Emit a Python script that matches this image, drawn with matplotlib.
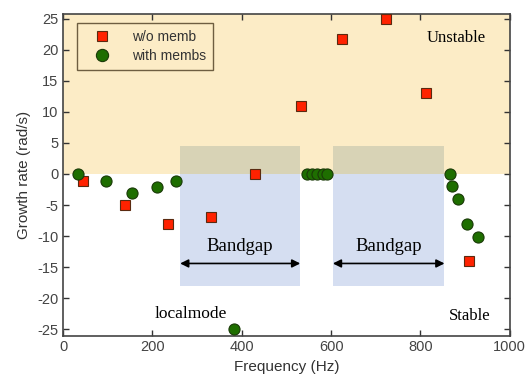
import matplotlib.pyplot as plt
from matplotlib.patches import Rectangle

# w/o memb (red squares)
f_nomemb = [45, 139, 234, 331, 430, 532, 625, 722, 813, 908]
g_nomemb = [-1.1, -5, -8, -6.9, 0, 10.9, 21.8, 24.9, 13, -14]

# with membs (green circles)
f_memb = [33, 95, 155, 211, 253, 383, 545, 557, 569, 581, 592, 867, 871, 884, 904, 930]
g_memb = [0, -1.1, -3, -2.1, -1.1, -24.9, 0, 0, 0, 0, 0, 0, -2, -4, -8, -10.1]

# band gap regions (Hz) and their vertical extent
gaps = [(262, 531), (604, 854)]
gap_top, gap_bottom = 4.5, -18

plt.rcParams['font.family'] = ['Liberation Sans', 'DejaVu Sans']
plt.rcParams['axes.unicode_minus'] = False

fig = plt.figure(figsize=(5.26, 3.77), dpi=100)
ax = fig.add_axes([0.12, 0.11, 0.849, 0.852])

ax.set_xlim(0, 1000)
ax.set_ylim(-26, 25.7)

# unstable region shading
ax.axhspan(0, 30, color='#fcecc6', zorder=0, lw=0)

for lo, hi in gaps:
    # part over the unstable shading looks greyish, below zero light blue
    ax.add_patch(Rectangle((lo, 0), hi - lo, gap_top,
                           facecolor='#d8d3b6', lw=0, zorder=1))
    ax.add_patch(Rectangle((lo, gap_bottom), hi - lo, -gap_bottom,
                           facecolor='#d5def1', lw=0, zorder=1))
    ax.annotate('', xy=(lo, -14.4), xytext=(hi, -14.4),
                arrowprops=dict(arrowstyle='<|-|>', color='black', lw=1.2,
                                mutation_scale=12, shrinkA=0, shrinkB=0), zorder=3)
    ax.text((lo + hi) / 2, -11.6, 'Bandgap', family='Liberation Serif',
            fontsize=13.5, ha='center', va='center', zorder=3)

ax.plot(f_nomemb, g_nomemb, 's', color='#ff2200', mec='#5a2a10', mew=0.8,
        ms=6.5, label='w/o memb', zorder=4)
ax.plot(f_memb, g_memb, 'o', color='#1e6e00', mec='#1a3a08', mew=0.8,
        ms=8, label='with membs', zorder=4)

ax.text(880, 21.9, 'Unstable', family='Liberation Serif', fontsize=12,
        ha='center', va='center')
ax.text(911, -22.9, 'Stable', family='Liberation Serif', fontsize=12,
        ha='center', va='center')
ax.text(286, -22.6, 'localmode', family='Liberation Serif', fontsize=12.5,
        ha='center', va='center')

ax.set_xticks([0, 200, 400, 600, 800, 1000])
ax.set_yticks([-25, -20, -15, -10, -5, 0, 5, 10, 15, 20, 25])
ax.tick_params(direction='in', top=True, right=True, length=4, width=1,
               colors='#333333', labelsize=10.5, labelcolor='#444444')
for s in ax.spines.values():
    s.set_color('#444444')
    s.set_linewidth(1.2)

ax.set_xlabel('Frequency (Hz)', fontsize=11, color='#333333')
ax.set_ylabel('Growth rate (rad/s)', fontsize=11, color='#333333')

leg = ax.legend(loc='upper left', bbox_to_anchor=(0.03, 0.973), borderaxespad=0,
                fontsize=10, frameon=True, fancybox=False, borderpad=0.5,
                handlelength=2.6, handletextpad=0.9, labelspacing=0.35,
                markerscale=1.1)
leg.get_frame().set_edgecolor('#4a3a20')
leg.get_frame().set_facecolor('none')
leg.get_frame().set_linewidth(1.0)
for t in leg.get_texts():
    t.set_color('#333333')

fig.savefig('out.png', dpi=100)
